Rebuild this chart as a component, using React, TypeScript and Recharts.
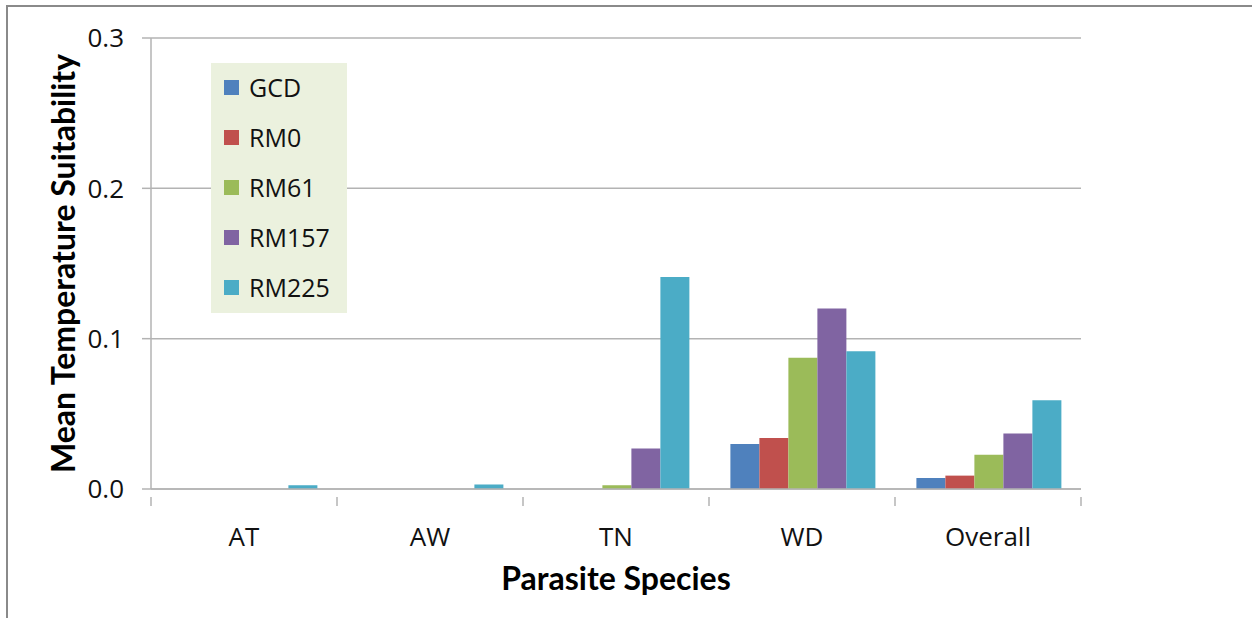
import React from 'react';
import { BarChart, Bar, XAxis, YAxis, CartesianGrid, Legend, Label } from 'recharts';

const categories = ['AT', 'AW', 'TN', 'WD', 'Overall'];
const seriesNames = ['GCD', 'RM0', 'RM61', 'RM157', 'RM225'];
const gcdValues = [0, 0, 0, 0.030, 0.0073];
const rm0Values = [0, 0, 0, 0.034, 0.0089];
const rm61Values = [0, 0, 0.0025, 0.0873, 0.0228];
const rm157Values = [0, 0, 0.027, 0.120, 0.037];
const rm225Values = [0.0025, 0.003, 0.141, 0.0916, 0.059];
const yTicks = [0, 0.1, 0.2, 0.3];
const colors = ['#4F81BD', '#C0504D', '#9BBB59', '#8064A2', '#4BACC6'];

const seriesValues = [gcdValues, rm0Values, rm61Values, rm157Values, rm225Values];
const data = categories.map((c, i) => {
  const row: any = { category: c };
  seriesNames.forEach((s, j) => {
    row[s] = seriesValues[j][i];
  });
  return row;
});

const FONT = '"Open Sans", "Noto Sans", sans-serif';
const TITLE_FONT = 'Lato, "Open Sans", sans-serif';
const GRID = '#B3B3B3';
const TEXT = '#111';

const XTick = (props: any) => {
  const { x, y, payload, index } = props;
  const off = payload && payload.offset ? payload.offset : 0;
  const isLast = index === categories.length - 1;
  return (
    <g>
      <line x1={x - off} x2={x - off} y1={y} y2={y + 9} stroke={GRID} strokeWidth={1.5} />
      {isLast && <line x1={x + off} x2={x + off} y1={y} y2={y + 9} stroke={GRID} strokeWidth={1.5} />}
      <text x={x} y={y + 39} textAnchor="middle" dominantBaseline="central" fontFamily={FONT} fontSize={26} fill={TEXT}>
        {payload.value}
      </text>
    </g>
  );
};

const LegendContent = () => (
  <div style={{ width: 136, height: 250, background: '#EBF1DE', boxSizing: 'border-box', paddingTop: 12 }}>
    {seriesNames.map((s, i) => (
      <div key={s} style={{ display: 'flex', alignItems: 'center', height: 50, marginTop: i === 0 ? -13 : 0 }}>
        <div style={{ width: 15, height: 15, background: colors[i], marginLeft: 13, marginRight: 10, flex: 'none' }} />
        <span style={{ fontFamily: FONT, fontSize: 25, color: TEXT, lineHeight: '50px', whiteSpace: 'nowrap' }}>{s}</span>
      </div>
    ))}
  </div>
);

export default function App() {
  return (
    <div style={{ position: 'absolute', left: 0, top: 0, width: 1252, height: 618, overflow: 'hidden', background: '#fff' }}>
      <div style={{ position: 'absolute', left: 6, top: 5, width: 1400, height: 800, borderTop: '2px solid #8a8a8a', borderLeft: '2px solid #8a8a8a' }} />
      <div style={{ position: 'absolute', left: 0, top: 0 }}>
        <BarChart
          width={1252}
          height={618}
          data={data}
          margin={{ top: 38, right: 171, bottom: 69, left: 10 }}
          barCategoryGap="11.5%"
          barGap={0}
        >
          <CartesianGrid vertical={false} stroke={GRID} strokeWidth={1.5} />
          <XAxis
            dataKey="category"
            height={60}
            axisLine={{ stroke: GRID, strokeWidth: 1.5 }}
            tickLine={false}
            tick={<XTick />}
            interval={0}
          >
            <Label
              content={(p: any) => {
                const vb = p.viewBox;
                return (
                  <text x={vb.x + vb.width / 2} y={vb.y + 88} textAnchor="middle" dominantBaseline="central" fontFamily={TITLE_FONT} fontWeight="bold" fontSize={32} fill="#000">
                    Parasite Species
                  </text>
                );
              }}
            />
          </XAxis>
          <YAxis
            width={141}
            domain={[0, 0.3]}
            ticks={yTicks}
            tickFormatter={(v: number) => v.toFixed(1)}
            axisLine={{ stroke: GRID, strokeWidth: 1.5 }}
            tickLine={{ stroke: GRID, strokeWidth: 1.5 }}
            tickSize={9}
            tickMargin={18}
            tick={{ fontFamily: FONT, fontSize: 26, fill: TEXT }}
          >
            <Label
              content={(p: any) => {
                const vb = p.viewBox;
                const cx = 62;
                const cy = vb.y + vb.height / 2;
                return (
                  <text x={cx} y={cy} transform={`rotate(-90 ${cx} ${cy})`} textAnchor="middle" dominantBaseline="central" fontFamily={TITLE_FONT} fontWeight="bold" fontSize={32} fill="#000">
                    Mean Temperature Suitability
                  </text>
                );
              }}
            />
          </YAxis>
          <Legend
            layout="vertical"
            align="center"
            verticalAlign="middle"
            content={<LegendContent />}
            wrapperStyle={{ position: 'absolute', left: 211, top: 63, width: 136, height: 250, bottom: 'auto', right: 'auto' }}
          />
          {seriesNames.map((s, i) => (
            <Bar key={s} dataKey={s} fill={colors[i]} isAnimationActive={false} />
          ))}
        </BarChart>
      </div>
    </div>
  );
}
